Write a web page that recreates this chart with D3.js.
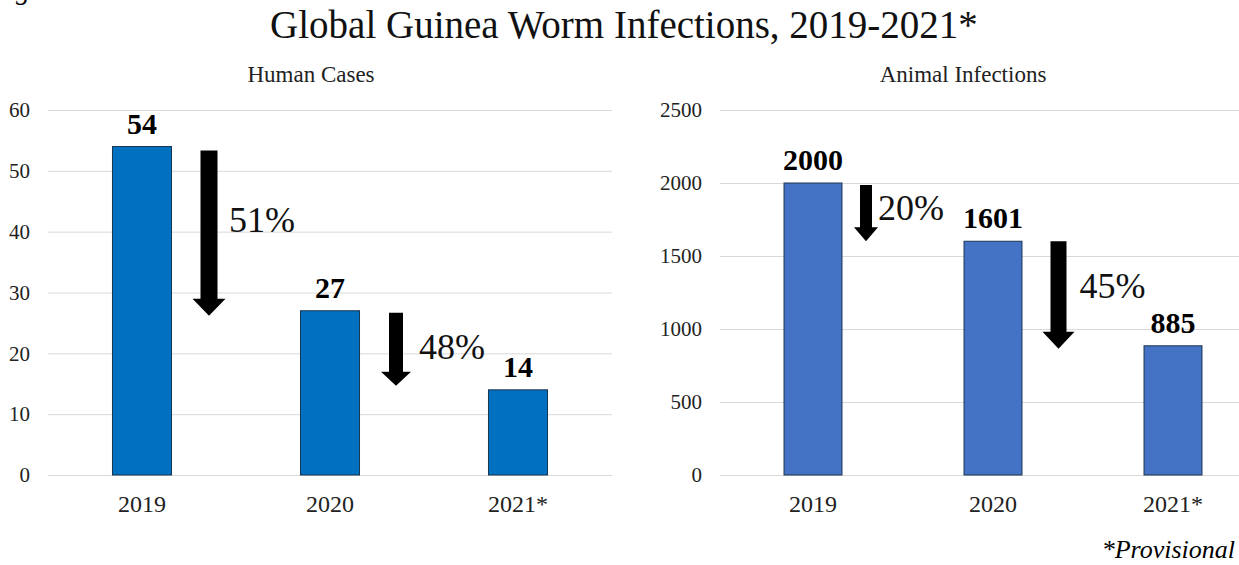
<!DOCTYPE html>
<html>
<head>
<meta charset="utf-8">
<script src="https://cdn.jsdelivr.net/npm/d3@7"></script>
<style>
  body { margin: 0; background: #fff; }
  svg, svg text { font-family: "Liberation Serif", "Times New Roman", serif !important; }
</style>
</head>
<body>
<div id="chart"></div>
<script>
const width = 1239;
const height = 565;

// data
const years = ["2019", "2020", "2021*"];
const humanCases = [54, 27, 14];
const animalInfections = [2000, 1601, 885];
const humanDrops = ["51%", "48%"];
const animalDrops = ["20%", "45%"];
const humanTicks = [0, 10, 20, 30, 40, 50, 60];
const animalTicks = [0, 500, 1000, 1500, 2000, 2500];

const svg = d3.select("#chart")
  .append("svg")
  .attr("width", width)
  .attr("height", height);

// cut-off glyph in the top left corner
svg.append("text")
  .attr("x", 16).attr("y", -1)
  .attr("font-size", 28).attr("font-style", "italic")
  .text("g");

// main title
svg.append("text")
  .attr("x", 624).attr("y", 38)
  .attr("text-anchor", "middle")
  .attr("font-size", 39)
  .attr("fill", "#111")
  .text("Global Guinea Worm Infections, 2019-2021*");

// footnote
svg.append("text")
  .attr("x", 1235).attr("y", 558)
  .attr("text-anchor", "end")
  .attr("font-size", 26).attr("font-style", "italic")
  .text("*Provisional");

function drawChart(opt) {
  const g = svg.append("g");

  const x = d3.scaleBand()
    .domain(years)
    .range([opt.x0, opt.x1])
    .paddingInner(opt.pad)
    .paddingOuter(opt.pad / 2);

  const y = d3.scaleLinear()
    .domain([0, d3.max(opt.ticks)])
    .range([475, 110]);

  // subtitle
  g.append("text")
    .attr("x", opt.titleX).attr("y", 82)
    .attr("text-anchor", "middle")
    .attr("font-size", 23)
    .attr("fill", "#222")
    .text(opt.title);

  // gridlines + y labels
  const yAxis = g.append("g")
    .attr("transform", `translate(${opt.gridX0},0)`)
    .call(d3.axisLeft(y)
      .tickValues(opt.ticks)
      .tickFormat(d3.format("d"))
      .tickSize(-(opt.x1 - opt.gridX0))
      .tickPadding(18));
  yAxis.select(".domain").remove();
  yAxis.selectAll(".tick line").attr("stroke", "#d9d9d9");
  yAxis.selectAll(".tick text")
    .attr("font-size", 21)
    .attr("fill", "#222");

  // x labels
  const xAxis = g.append("g")
    .attr("transform", "translate(0,475)")
    .call(d3.axisBottom(x).tickSize(0).tickPadding(20));
  xAxis.select(".domain").remove();
  xAxis.selectAll(".tick text")
    .attr("font-size", 24)
    .attr("fill", "#222");

  // bars
  g.selectAll(".bar")
    .data(opt.values)
    .enter()
    .append("rect")
    .attr("x", (d, i) => x(years[i]))
    .attr("y", d => y(d))
    .attr("width", x.bandwidth())
    .attr("height", d => y(0) - y(d))
    .attr("fill", opt.color)
    .attr("stroke", "#1c3550")
    .attr("stroke-width", 1);

  // value labels
  g.selectAll(".val")
    .data(opt.values)
    .enter()
    .append("text")
    .attr("x", (d, i) => x(years[i]) + x.bandwidth() / 2)
    .attr("y", d => y(d) - 13)
    .attr("text-anchor", "middle")
    .attr("font-size", 30)
    .attr("font-weight", "bold")
    .text(d => d);

  // drop arrows between bars
  opt.arrows.forEach((a, i) => {
    const cx = x(years[i]) + x.bandwidth() / 2 + a.dx;
    const top = y(opt.values[i]) + a.top;
    const tip = y(opt.values[i + 1]) + a.tip;
    const sw = a.shaft / 2, hw = a.head / 2;
    const hs = tip - a.headLen;
    g.append("path")
      .attr("d", `M${cx - sw},${top}L${cx + sw},${top}L${cx + sw},${hs}L${cx + hw},${hs}` +
        `L${cx},${tip}L${cx - hw},${hs}L${cx - sw},${hs}Z`)
      .attr("fill", "#000");
    g.append("text")
      .attr("x", cx + a.tx)
      .attr("y", (top + tip) / 2 + a.ty)
      .attr("font-size", 36)
      .attr("fill", "#111")
      .text(opt.drops[i]);
  });
}

drawChart({
  title: "Human Cases",
  titleX: 311,
  values: humanCases,
  ticks: humanTicks,
  drops: humanDrops,
  color: "#0070c0",
  x0: 48, x1: 612, gridX0: 48,
  pad: 0.686,
  arrows: [
    { dx: 67, top: 4, tip: 5, shaft: 17, head: 33, headLen: 17, tx: 20, ty: -1 },
    { dx: 66, top: 2, tip: -4, shaft: 14, head: 30, headLen: 14, tx: 23, ty: 10 }
  ]
});

drawChart({
  title: "Animal Infections",
  titleX: 963,
  values: animalInfections,
  ticks: animalTicks,
  drops: animalDrops,
  color: "#4472c4",
  x0: 723, x1: 1263, gridX0: 720,
  pad: 0.678,
  arrows: [
    { dx: 53, top: 2, tip: 0, shaft: 12, head: 24, headLen: 14, tx: 12, ty: 7 },
    { dx: 65.5, top: 0, tip: 3, shaft: 16, head: 32, headLen: 17, tx: 21, ty: 3 }
  ]
});
</script>
</body>
</html>
